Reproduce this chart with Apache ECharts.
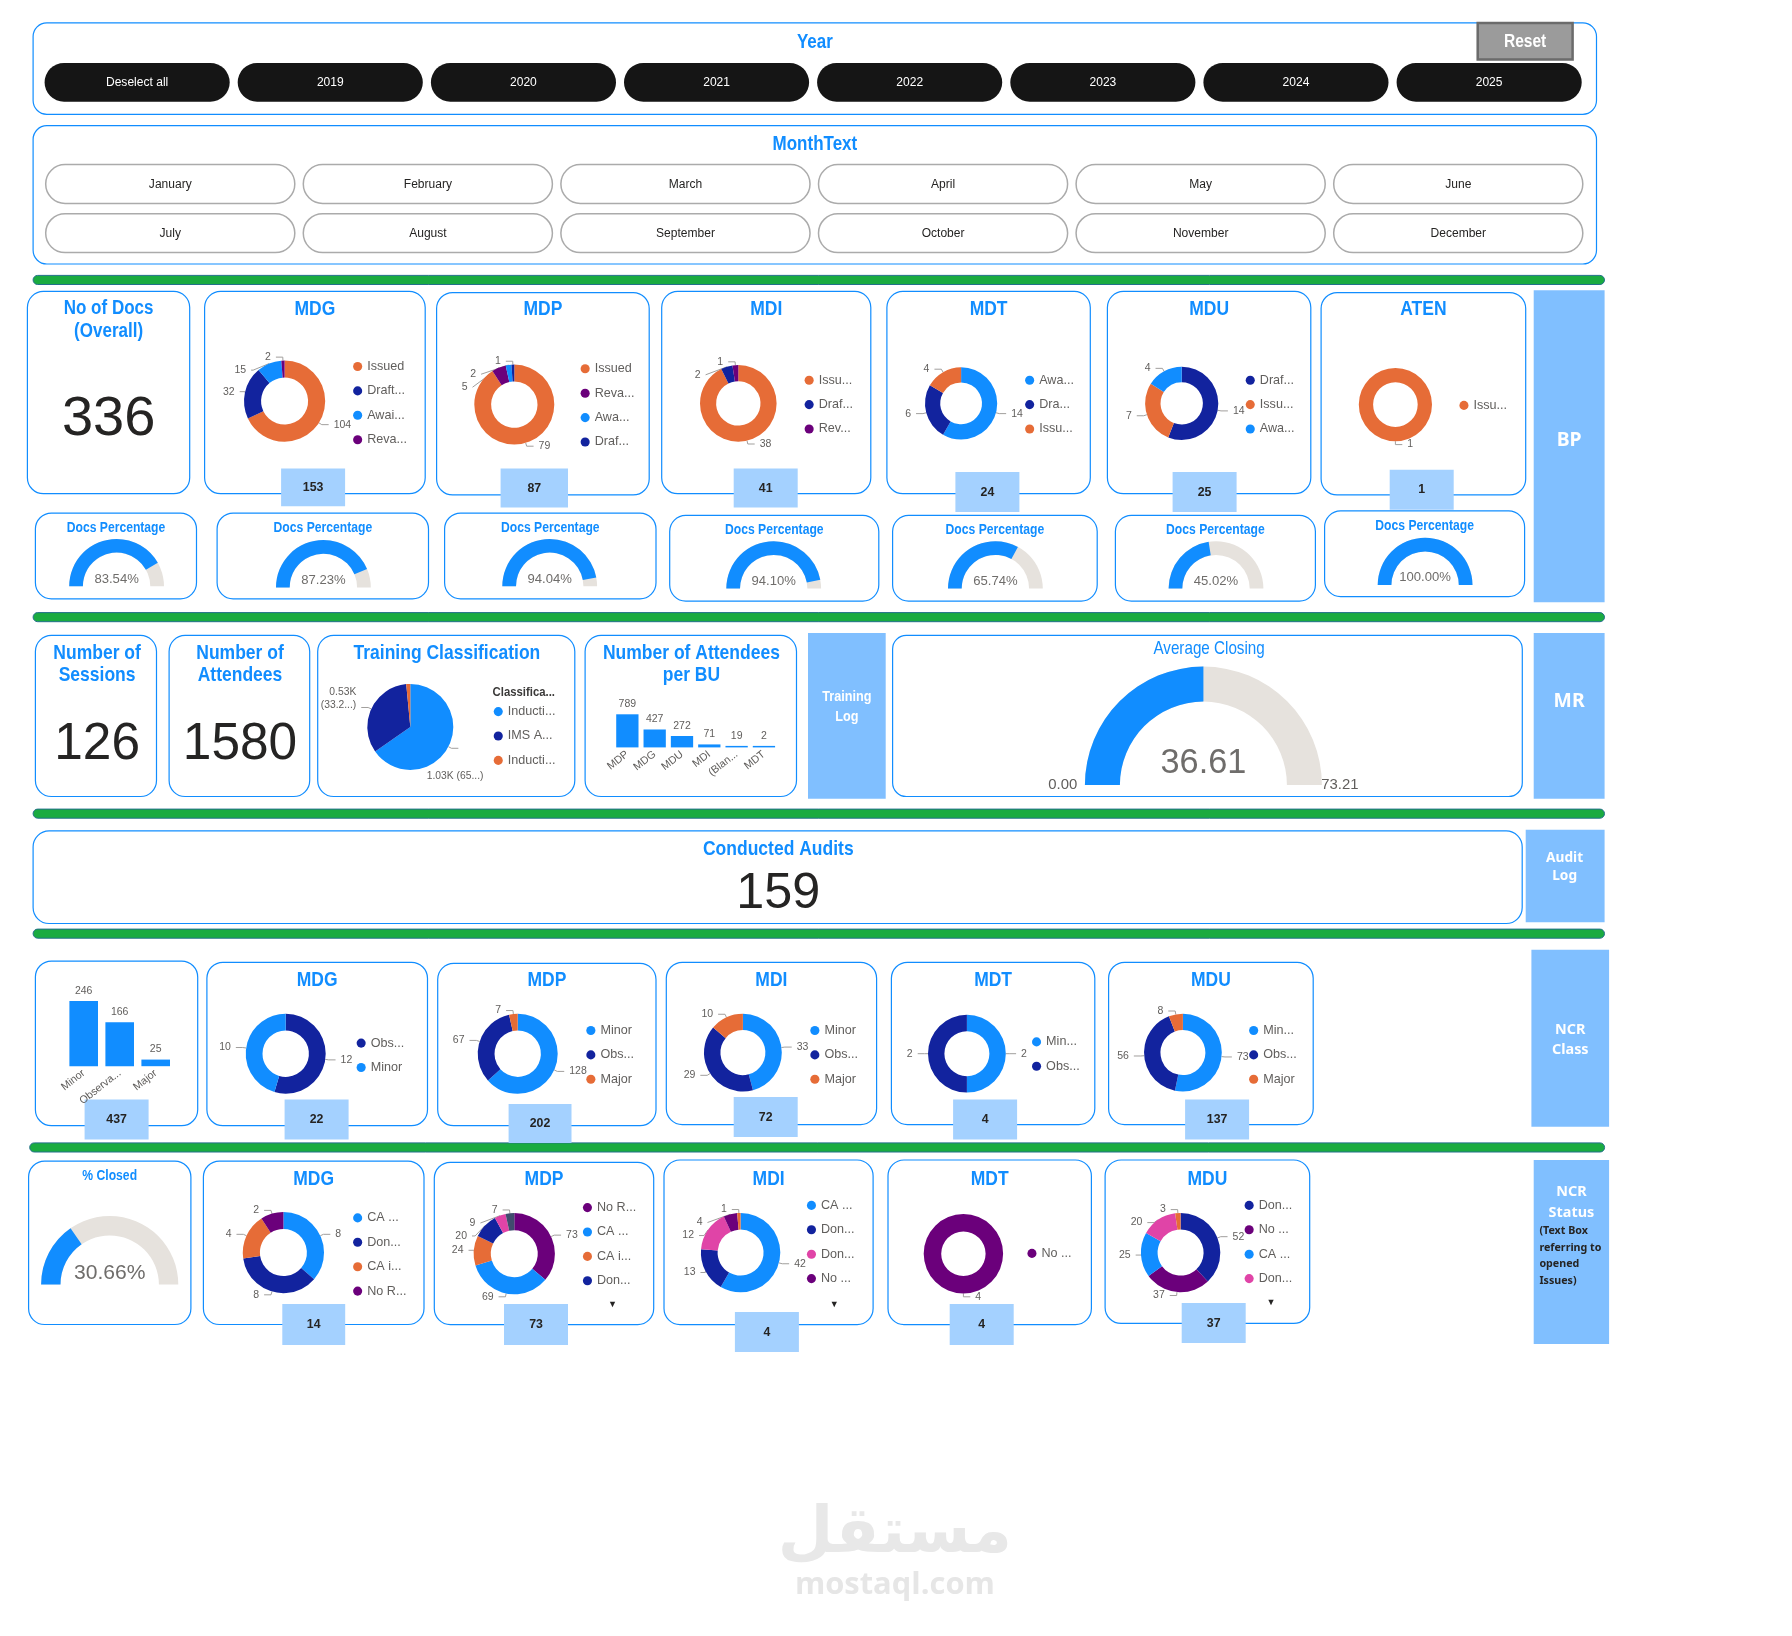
<!DOCTYPE html>
<html>
<head>
<meta charset="utf-8">
<title>QMS Dashboard</title>
<script src="https://cdn.jsdelivr.net/npm/echarts@6/dist/echarts.min.js"></script>
<style>
  html, body { margin: 0; padding: 0; background: #fff; }
  #main { width: 1792px; height: 1636px; }
</style>
</head>
<body>
<div id="main"></div>
<script>
// ---- slicers
const years = ['Deselect all', '2019', '2020', '2021', '2022', '2023', '2024', '2025'];
const months = ['January', 'February', 'March', 'April', 'May', 'June',
  'July', 'August', 'September', 'October', 'November', 'December'];

// ---- BP (documents)
const docsOverall = 336;
const docUnits = ['MDG', 'MDP', 'MDI', 'MDT', 'MDU', 'ATEN'];
const docTotals = [153, 87, 41, 24, 25, 1];
const docPercent = [83.54, 87.23, 94.04, 94.10, 65.74, 45.02, 100.00];
const docMdgNames = ['Issued', 'Draft...', 'Awai...', 'Reva...'];
const docMdgValues = [104, 32, 15, 2];
const docMdpNames = ['Issued', 'Reva...', 'Awa...', 'Draf...'];
const docMdpValues = [79, 5, 2, 1];
const docMdiNames = ['Issu...', 'Draf...', 'Rev...'];
const docMdiValues = [38, 2, 1];
const docMdtNames = ['Awa...', 'Dra...', 'Issu...'];
const docMdtValues = [14, 6, 4];
const docMduNames = ['Draf...', 'Issu...', 'Awa...'];
const docMduValues = [14, 7, 4];
const docAtenNames = ['Issu...'];
const docAtenValues = [1];

// ---- MR (training)
const sessions = 126;
const attendees = 1580;
const trainingNames = ['Inducti...', 'IMS A...', 'Inducti...\u200b'];
const trainingValues = [1031, 525, 24];
const buNames = ['MDP', 'MDG', 'MDU', 'MDI', '(Blan...', 'MDT'];
const buAttendees = [789, 427, 272, 71, 19, 2];
const avgClosing = 36.61;
const avgClosingMax = 73.21;

// ---- audits
const conductedAudits = 159;

// ---- NCR class
const ncrClassNames = ['Minor', 'Observa...', 'Major'];
const ncrClassValues = [246, 166, 25];
const ncrClassTotal = 437;
const ncrUnits = ['MDG', 'MDP', 'MDI', 'MDT', 'MDU'];
const ncrUnitTotals = [22, 202, 72, 4, 137];
const clsMdgNames = ['Obs...', 'Minor'];
const clsMdgValues = [12, 10];
const clsMdpNames = ['Minor', 'Obs...', 'Major'];
const clsMdpValues = [128, 67, 7];
const clsMdiNames = ['Minor', 'Obs...', 'Major'];
const clsMdiValues = [33, 29, 10];
const clsMdtNames = ['Min...', 'Obs...'];
const clsMdtValues = [2, 2];
const clsMduNames = ['Min...', 'Obs...', 'Major'];
const clsMduValues = [73, 56, 8];

// ---- NCR status
const closedPercent = 30.66;
const openedIssues = [14, 73, 4, 4, 37];
const stMdgNames = ['CA ...', 'Don...', 'CA i...', 'No R...'];
const stMdgValues = [8, 8, 4, 2];
const stMdpNames = ['No R...', 'CA ...', 'CA i...', 'Don...', 'Don...\u200b', '(Blank)'];
const stMdpValues = [73, 69, 24, 20, 9, 7];
const stMdiNames = ['CA ...', 'Don...', 'Don...\u200b', 'No ...', 'CA i...'];
const stMdiValues = [42, 13, 12, 4, 1];
const stMdtNames = ['No ...'];
const stMdtValues = [4];
const stMduNames = ['Don...', 'No ...', 'CA ...', 'Don...\u200b', 'CA i...'];
const stMduValues = [52, 37, 25, 20, 3];

// layout was measured on a 1568px wide mock, scale it to the page
const K = 1792 / 1568;
const S = v => Math.round(v * K * 10) / 10;

const BLUE = '#118DFF';
const NAVY = '#12239E';
const ORANGE = '#E66C37';
const PURPLE = '#6B007B';
const PINK = '#E044A7';
const GREY = '#E6E2DD';
const PANEL = '#80BFFF';
const VALUE_BOX = '#A4D1FF';
const TXT = '#605E5C';
const SANS = '"Liberation Sans", Arial, sans-serif';
const UI = '"Noto Sans", "Open Sans", sans-serif';

const palette = {
  'Issued': ORANGE, 'Issu...': ORANGE,
  'Draft...': NAVY, 'Draf...': NAVY, 'Dra...': NAVY,
  'Awai...': BLUE, 'Awa...': BLUE,
  'Reva...': PURPLE, 'Rev...': PURPLE,
  'Minor': BLUE, 'Min...': BLUE, 'Obs...': NAVY, 'Major': ORANGE,
  'CA ...': BLUE, 'Don...': NAVY, 'CA i...': ORANGE, 'No R...': PURPLE, 'No ...': PURPLE,
  'Don...\u200b': PINK, '(Blank)': '#404C6E',
  'Inducti...': BLUE, 'IMS A...': NAVY, 'Inducti...\u200b': ORANGE
};

// ---------- decoration (cards, slicers, captions)
const g = [];
function rect(x, y, w, h, style, r) {
  g.push({ type: 'rect', silent: true, shape: { x: S(x), y: S(y), width: S(w), height: S(h), r: S(r || 0) }, style: style });
}
// sx squeezes the text horizontally, the dashboard font is a condensed one
function text(str, x, y, size, extra, sx) {
  g.push({
    type: 'text', silent: true, x: S(x), y: S(y), scaleX: sx || 1,
    style: Object.assign({ text: String(str), fontSize: S(size), fontFamily: SANS, fill: '#252423', align: 'center', verticalAlign: 'middle' }, extra || {})
  });
}
function title(str, x, y, size) { text(str, x, y, size || 18, { fill: BLUE, fontWeight: 'bold' }, 0.85); }
function card(x, y, w, h, r) { rect(x, y, w, h, { fill: '#fff', stroke: BLUE, lineWidth: 1.2 }, r === undefined ? 14 : r); }
function panel(x, y, w, h) { rect(x, y, w, h, { fill: PANEL }); }
function valueBox(x, y, w, h, v) {
  rect(x, y, w, h, { fill: VALUE_BOX });
  text(v, x + w / 2, y + h / 2, 12, { fontWeight: 'bold' }, 0.9);
}
function greenBar(x, y, w) { rect(x, y, w, 8, { fill: '#1AAB40', stroke: '#23708A', lineWidth: 1 }, 4); }
const white = { fill: '#fff', fontWeight: 'bold', fontFamily: UI };

// year slicer
card(29, 20, 1368, 80, 12);
title('Year', 713, 37, 17.5);
years.forEach((y, i) => {
  const x = 39 + i * 169;
  rect(x, 55, 162, 34, { fill: '#151515' }, 17);
  text(y, x + 81, 72, 12, { fill: '#fff' }, 0.88);
});
rect(1293, 20, 83, 32, { fill: '#9B9B9B', stroke: '#6B6B6B', lineWidth: 2.5 });
text('Reset', 1334.5, 37, 15.5, { fill: '#fff', fontWeight: 'bold' }, 0.88);

// month slicer
card(29, 110, 1368, 121, 12);
title('MonthText', 713, 126, 17.5);
months.forEach((m, i) => {
  const x = 40 + (i % 6) * 225.4;
  const y = i < 6 ? 144 : 187;
  rect(x, y, 218, 34, { fill: '#fff', stroke: '#ABABAB', lineWidth: 1.5 }, 17);
  text(m, x + 109, y + 17, 12, null, 0.88);
});

greenBar(29, 241, 1375);
greenBar(29, 536, 1375);
greenBar(29, 708, 1375);
greenBar(29, 813, 1375);
greenBar(26, 1000, 1378);

// BP row
card(24, 255, 142, 177);
title('No of Docs', 95, 270, 17.5);
title('(Overall)', 95, 290, 17.5);
text(docsOverall, 95, 367, 49);

const docCards = [[179, 255, 193], [382, 256, 186], [579, 255, 183], [776, 255, 178], [969, 255, 178], [1156, 256, 179]];
const docValueBoxes = [[246, 410, 56, 33], [438, 410, 59, 34], [642, 410, 56, 34], [836, 413, 56, 35], [1026, 413, 56, 35], [1216, 411, 56, 35]];
docCards.forEach((c, i) => {
  card(c[0], c[1], c[2], 177);
  title(docUnits[i], c[0] + c[2] / 2, 271);
});
docValueBoxes.forEach((b, i) => valueBox(b[0], b[1], b[2], b[3], docTotals[i]));
const pctCards = [[31, 449, 141], [190, 449, 185], [389, 449, 185], [586, 451, 183], [781, 451, 179], [976, 451, 175], [1159, 447, 175]];
pctCards.forEach(c => {
  card(c[0], c[1], c[2], 75);
  title('Docs Percentage', c[0] + c[2] / 2, c[1] + 13, 12.5);
});
panel(1342, 254, 62, 273);
text('BP', 1373, 385, 17, white);

// MR row
card(31, 556, 106, 141);
title('Number of', 85, 572);
title('Sessions', 85, 591);
text(sessions, 85, 652, 45);
card(148, 556, 123, 141);
title('Number of', 210, 572);
title('Attendees', 210, 591);
text(attendees, 210, 652, 45);
card(278, 556, 225, 141);
title('Training Classification', 391, 572);
text('Classifica...', 431, 606, 11, { align: 'left', fontWeight: 'bold', fill: '#3B3A39' }, 0.9);
card(512, 556, 185, 141);
title('Number of Attendees', 605, 572);
title('per BU', 605, 591);
panel(707, 554, 68, 145);
text('Training', 741, 610, 13, { fill: '#fff', fontWeight: 'bold' }, 0.85);
text('Log', 741, 627, 13, { fill: '#fff', fontWeight: 'bold' }, 0.85);
card(781, 556, 551, 141, 12);
text('Average Closing', 1058, 568, 15.5, { fill: BLUE }, 0.86);
panel(1342, 554, 62, 145);
text('MR', 1373, 614, 17, white);

// audits
card(29, 727, 1303, 81, 14);
title('Conducted Audits', 681, 743, 18);
text(conductedAudits, 681, 782, 44);
panel(1335, 726, 69, 81);
text('Audit', 1369, 751, 12, white);
text('Log', 1369, 767, 12, white);

// NCR class row
card(31, 841, 142, 144);
valueBox(74, 962, 56, 35, ncrClassTotal);
const clsCards = [[181, 842, 193, 143], [383, 843, 191, 142], [583, 842, 184, 142], [780, 842, 178, 142], [970, 842, 179, 142]];
const clsBoxes = [[249, 962, 56, 35], [445, 966, 55, 34], [642, 960, 56, 35], [834, 962, 56, 35], [1037, 962, 56, 35]];
clsCards.forEach((c, i) => {
  card(c[0], c[1], c[2], c[3]);
  title(ncrUnits[i], c[0] + c[2] / 2, 858);
});
clsBoxes.forEach((b, i) => valueBox(b[0], b[1], b[2], b[3], ncrUnitTotals[i]));
panel(1340, 831, 68, 155);
text('NCR', 1374, 901, 12.6, white);
text('Class', 1374, 919, 12.6, white);

// NCR status row
card(25, 1016, 142, 143);
title('% Closed', 96, 1029, 12.5);
const stCards = [[178, 1016, 193, 143], [380, 1017, 192, 142], [581, 1015, 183, 144], [777, 1015, 178, 144], [967, 1015, 179, 143]];
const stBoxes = [[247, 1141, 55, 36], [441, 1141, 56, 36], [643, 1148, 56, 35], [831, 1141, 56, 36], [1034, 1140, 56, 35]];
stCards.forEach((c, i) => {
  card(c[0], c[1], c[2], c[3]);
  title(ncrUnits[i], c[0] + c[2] / 2, 1032);
});
stBoxes.forEach((b, i) => valueBox(b[0], b[1], b[2], b[3], openedIssues[i]));
[[536, 1141], [730, 1141], [1112, 1140]].forEach(p => text('\u25BC', p[0], p[1], 8, { fill: '#252423', fontFamily: UI }));
panel(1342, 1015, 66, 161);
text('NCR', 1375, 1043, 12.6, white);
text('Status', 1375, 1061, 12.6, white);
['(Text Box', 'referring to', 'opened', 'Issues)'].forEach((t, i) => {
  text(t, 1347, 1077 + i * 14.6, 9.4, { align: 'left', fontWeight: 'bold', fontFamily: UI });
});

// watermark
text('مستقل', 783, 1343, 56, { fill: '#E8E8E8', fontWeight: 'bold', fontFamily: '"DejaVu Sans", sans-serif' });
text('mostaql.com', 783, 1387, 27, { fill: '#E6E6E6', fontWeight: 'bold', fontFamily: '"Open Sans", sans-serif' });

// ---------- charts
const pieLabel = { show: true, position: 'outside', formatter: '{c}', fontSize: S(9.2), color: TXT, fontFamily: SANS };
const pieLine = { show: true, length: S(3), length2: S(6), lineStyle: { color: '#A19F9D', width: 1 } };

function donut(name, cx, cy, r, names, values, inner) {
  return {
    name: name, type: 'pie', silent: true,
    center: [S(cx), S(cy)], radius: [S(r * (inner || 0.58)), S(r)],
    startAngle: 90, clockwise: true,
    label: pieLabel, labelLine: pieLine,
    data: names.map((n, i) => ({ name: n, value: values[i], itemStyle: { color: palette[n] } }))
  };
}

function pctGauge(cx, cy, r, w, value, fs, dy) {
  return {
    type: 'gauge', silent: true, center: [S(cx), S(cy)], radius: S(r),
    startAngle: 180, endAngle: 0, min: 0, max: 100,
    axisLine: { lineStyle: { width: S(w), color: [[1, GREY]] } },
    progress: { show: true, width: S(w), itemStyle: { color: BLUE } },
    pointer: { show: false }, anchor: { show: false }, axisTick: { show: false },
    splitLine: { show: false }, axisLabel: { show: false }, title: { show: false },
    detail: {
      offsetCenter: [0, S(dy)], formatter: v => v.toFixed(2) + '%',
      fontSize: S(fs), fontFamily: SANS, color: '#6F6D6B', fontWeight: 'normal'
    },
    data: [{ value: value }]
  };
}

function legendAt(x, y, names, step) {
  const fs = S(11);
  return {
    data: names, left: S(x), top: S(y), orient: 'vertical', icon: 'circle',
    itemWidth: S(8), itemHeight: S(8), itemGap: S(step || 21) - fs, padding: 0,
    selectedMode: false, textStyle: { fontSize: fs, color: TXT, fontFamily: SANS }
  };
}

const series = [
  donut('docMDG', 249, 351, 35.5, docMdgNames, docMdgValues),
  donut('docMDP', 450, 354, 35, docMdpNames, docMdpValues),
  donut('docMDI', 646, 353, 33.5, docMdiNames, docMdiValues),
  donut('docMDT', 841, 353, 31.6, docMdtNames, docMdtValues),
  donut('docMDU', 1034, 353, 32, docMduNames, docMduValues),
  donut('docATEN', 1221, 354, 32, docAtenNames, docAtenValues, 0.61),

  donut('clsMDG', 250, 922, 35, clsMdgNames, clsMdgValues),
  donut('clsMDP', 453, 922, 35, clsMdpNames, clsMdpValues),
  donut('clsMDI', 650, 921, 34, clsMdiNames, clsMdiValues),
  donut('clsMDT', 846, 922, 34, clsMdtNames, clsMdtValues),
  donut('clsMDU', 1035, 921, 34, clsMduNames, clsMduValues),

  donut('stMDG', 248, 1096, 35.5, stMdgNames, stMdgValues),
  donut('stMDP', 450, 1097, 35.5, stMdpNames, stMdpValues),
  donut('stMDI', 648, 1096, 34.7, stMdiNames, stMdiValues),
  donut('stMDT', 843, 1097, 34.7, stMdtNames, stMdtValues, 0.56),
  donut('stMDU', 1033, 1096, 34.7, stMduNames, stMduValues)
];

const gaugeCenters = [[102, 513], [283, 514], [481, 513], [677, 515], [871, 515], [1064, 515], [1247, 512]];
docPercent.forEach((p, i) => series.push(pctGauge(gaugeCenters[i][0], gaugeCenters[i][1], 41.5, 12, p, 11.5, -6.5)));
series.push(pctGauge(96, 1124, 60, 17, closedPercent, 18.5, -10));

// training classification pie
series.push({
  name: 'training', type: 'pie', silent: true,
  center: [S(359), S(636)], radius: S(37.6), startAngle: 90, clockwise: true,
  label: {
    show: true, position: 'outside', fontSize: S(9), color: TXT, fontFamily: SANS, lineHeight: S(11),
    formatter: p => {
      const k = (p.value / 1000).toFixed(2) + 'K';
      const pct = p.percent.toFixed(2);
      return p.dataIndex === 1 ? k + '\n(' + pct.slice(0, 4) + '...)' : k + ' (' + pct.slice(0, 2) + '...)';
    }
  },
  labelLine: pieLine,
  labelLayout: p => (p.dataIndex === 0 ? { dx: -S(32), dy: S(24) } : { dy: -S(8) }),
  data: trainingNames.map((n, i) => ({
    name: n, value: trainingValues[i], itemStyle: { color: palette[n] },
    label: { show: i < 2 }, labelLine: { show: i < 2 }
  }))
});

// average closing
series.push({
  type: 'gauge', silent: true, center: [S(1053), S(687)], radius: S(103.7),
  startAngle: 180, endAngle: 0, min: 0, max: avgClosingMax, splitNumber: 1,
  axisLine: { lineStyle: { width: S(30.6), color: [[1, GREY]] } },
  progress: { show: true, width: S(30.6), itemStyle: { color: BLUE } },
  pointer: { show: false }, anchor: { show: false }, axisTick: { show: false },
  splitLine: { show: false, length: 0, distance: 0 },
  axisLabel: { show: true, distance: -S(32), formatter: v => v.toFixed(2), fontSize: S(13), color: TXT, fontFamily: SANS },
  title: { show: false },
  detail: { offsetCenter: [0, -S(19)], formatter: v => v.toFixed(2), fontSize: S(30), fontFamily: SANS, color: '#6F6D6B', fontWeight: 'normal' },
  data: [{ value: avgClosing }]
});

const barLabel = { show: true, position: 'top', distance: S(4), fontSize: S(9.2), color: TXT, fontFamily: SANS };
series.push({
  type: 'bar', silent: true, xAxisIndex: 0, yAxisIndex: 0, data: buAttendees,
  barWidth: S(19.5), barMinHeight: 1.5, itemStyle: { color: BLUE }, label: barLabel
});
series.push({
  type: 'bar', silent: true, xAxisIndex: 1, yAxisIndex: 1, data: ncrClassValues,
  barWidth: S(25), itemStyle: { color: BLUE }, label: barLabel
});

const catAxis = (idx, data) => ({
  gridIndex: idx, type: 'category', data: data,
  axisLine: { show: false }, axisTick: { show: false },
  axisLabel: { rotate: 38, interval: 0, fontSize: S(9.4), color: TXT, fontFamily: SANS, margin: S(5) }
});

const option = {
  animation: false,
  backgroundColor: '#fff',
  graphic: { elements: g },
  legend: [
    legendAt(309, 315, docMdgNames),
    legendAt(508, 317, docMdpNames),
    legendAt(704, 327, docMdiNames),
    legendAt(897, 327, docMdtNames),
    legendAt(1090, 327, docMduNames),
    legendAt(1277, 349, docAtenNames),
    legendAt(432, 617, trainingNames),
    legendAt(312, 907, clsMdgNames),
    legendAt(513, 896, clsMdpNames),
    legendAt(709, 896, clsMdiNames),
    legendAt(903, 906, clsMdtNames),
    legendAt(1093, 896, clsMduNames),
    legendAt(309, 1060, stMdgNames),
    legendAt(510, 1051, stMdpNames.slice(0, 4)),
    legendAt(706, 1049, stMdiNames.slice(0, 4)),
    legendAt(899, 1091, stMdtNames),
    legendAt(1089, 1049, stMduNames.slice(0, 4))
  ],
  grid: [
    { left: S(537), top: S(625), width: S(143.4), height: S(29) },
    { left: S(57.5), top: S(876), width: S(94.5), height: S(57) }
  ],
  xAxis: [catAxis(0, buNames), catAxis(1, ncrClassNames)],
  yAxis: [
    { gridIndex: 0, type: 'value', show: false, min: 0, max: 'dataMax' },
    { gridIndex: 1, type: 'value', show: false, min: 0, max: 'dataMax' }
  ],
  series: series
};

const chart = echarts.init(document.getElementById('main'));
chart.setOption(option);
</script>
</body>
</html>
